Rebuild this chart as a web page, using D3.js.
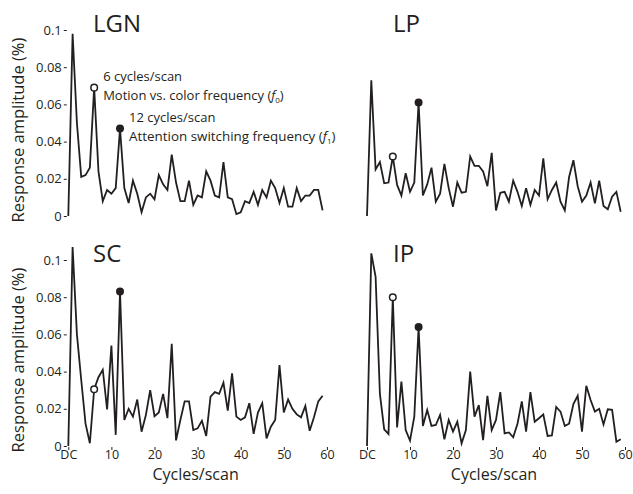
<!DOCTYPE html>
<html><head><meta charset="utf-8">
<script src="https://cdn.jsdelivr.net/npm/d3@7"></script>
<style>
html,body{margin:0;padding:0;background:#fff;}
text{font-family:"Open Sans","Noto Sans",sans-serif;fill:#231f20;}
</style></head>
<body><svg id="chart" width="633" height="494"></svg>
<script>
// ---- data ----
const cycles = d3.range(0, 60);
const lgnValues = [0,0.098,0.05,0.021,0.022,0.026,0.069,0.024,0.008,0.014,0.012,0.015,0.047,0.015,0.007,0.019,0.012,0.002,0.010,0.012,
  0.009,0.022,0.017,0.014,0.033,0.018,0.008,0.008,0.019,0.006,0.011,0.010,0.024,0.019,0.011,0.010,0.029,0.010,0.009,0.001,
  0.002,0.008,0.007,0.013,0.006,0.014,0.010,0.019,0.015,0.007,0.015,0.005,0.005,0.015,0.008,0.011,0.011,0.014,0.014,0.003];
const lpValues = [0,0.073,0.025,0.029,0.0176,0.018,0.032,0.0167,0.011,0.023,0.013,0.018,0.061,0.011,0.017,0.026,0.0077,0.012,0.028,0.015,
  0.005,0.018,0.0125,0.013,0.032,0.027,0.027,0.024,0.016,0.034,0.003,0.0125,0.013,0.0077,0.019,0.013,0.0054,0.015,0.006,0.014,
  0.011,0.031,0.009,0.014,0.018,0.0077,0.003,0.021,0.030,0.016,0.0077,0.011,0.018,0.0068,0.019,0.0054,0.0036,0.0104,0.013,0.0023];
const scValues = [0,0.107,0.06,0.0355,0.012,0.0015,0.0305,0.037,0.041,0.0197,0.054,0.006,0.083,0.014,0.020,0.0158,0.025,0.0077,0.0167,0.030,
  0.016,0.018,0.028,0.015,0.055,0.003,0.014,0.024,0.024,0.0086,0.0095,0.0136,0.0054,0.0265,0.029,0.028,0.034,0.019,0.039,0.0158,
  0.014,0.0154,0.023,0.0065,0.018,0.023,0.0041,0.0104,0.014,0.0435,0.018,0.025,0.020,0.017,0.0154,0.0215,0.0082,0.0154,0.024,0.027];
const ipValues = [0,0.1036,0.091,0.028,0.009,0.0065,0.080,0.010,0.0346,0.0086,0.0029,0.0158,0.064,0.0108,0.0194,0.0108,0.0113,0.0167,0.0036,0.014,
  0.0077,0.013,0.0014,0.0086,0.040,0.0158,0.022,0.0032,0.027,0.0086,0.014,0.029,0.0068,0.0073,0.0047,0.012,0.024,0.0077,0.029,0.013,
  0.0149,0.017,0.0054,0.0057,0.021,0.0185,0.0108,0.012,0.0226,0.027,0.0077,0.0324,0.0247,0.0185,0.020,0.0116,0.0197,0.0194,0.0023,0.0036];
const panelNames = ["LGN", "LP", "SC", "IP"];
const f0Index = 6, f1Index = 12;
const xTickValues = [0, 10, 20, 30, 40, 50, 60];
const xTickLabels = ["DC", "10", "20", "30", "40", "50", "60"];
const yTickValues = [0, 0.02, 0.04, 0.06, 0.08, 0.1];
const yTickLabels = ["0", "0.02", "0.04", "0.06", "0.08", "0.1"];
const yTitle = "Response amplitude (%)";
const xTitle = "Cycles/scan";

// ---- layout ----
const svg = d3.select("#chart");
const ink = "#231f20";
const panels = [
  {name: panelNames[0], values: lgnValues, x0: 68.3, x1: 326.9, y0: 216, y1: 30, col: 0, row: 0},
  {name: panelNames[1], values: lpValues,  x0: 367,  x1: 625,   y0: 216, y1: 30, col: 1, row: 0},
  {name: panelNames[2], values: scValues,  x0: 68.3, x1: 326.9, y0: 446, y1: 260, col: 0, row: 1},
  {name: panelNames[3], values: ipValues,  x0: 367,  x1: 625,   y0: 446, y1: 260, col: 1, row: 1}
];

panels.forEach(p => {
  const x = d3.scaleLinear().domain([0, 60]).range([p.x0, p.x1]);
  const y = d3.scaleLinear().domain([0, 0.1]).range([p.y0, p.y1]);
  const g = svg.append("g");

  // y axis (left column only)
  if (p.col === 0) {
    const ya = d3.axisLeft(y).tickValues(yTickValues)
      .tickFormat((d, i) => yTickLabels[i]).tickSize(3).tickPadding(2);
    const ag = g.append("g").attr("transform", `translate(${p.x0 - 1.5},0)`).call(ya);
    ag.select(".domain").remove();
    ag.selectAll("line").attr("stroke", ink).attr("stroke-width", 1);
    ag.selectAll("text").attr("font-size", 13).attr("fill", ink)
      .attr("font-family", "'Open Sans', sans-serif");
    g.append("text")
      .attr("transform", `translate(24,${(p.y0 + p.y1) / 2 + 7}) rotate(-90)`)
      .attr("text-anchor", "middle").attr("font-size", 16.5).text(yTitle);
  }
  // x axis (bottom row only)
  if (p.row === 1) {
    const xa = d3.axisBottom(x).tickValues(xTickValues)
      .tickFormat((d, i) => xTickLabels[i]).tickSize(3).tickPadding(0);
    const ag = g.append("g").attr("transform", `translate(0,${p.y0 + 1})`).call(xa);
    ag.select(".domain").remove();
    ag.selectAll("line").attr("stroke", ink).attr("stroke-width", 1);
    ag.selectAll("text").attr("font-size", 12.5).attr("fill", ink)
      .attr("font-family", "'Open Sans', sans-serif");
    g.append("text").attr("x", (p.x0 + p.x1) / 2 - 2).attr("y", 480)
      .attr("text-anchor", "middle").attr("font-size", 16).text(xTitle);
  }

  // data line
  const line = d3.line().x((d, i) => x(cycles[i])).y(d => y(d));
  g.append("path").datum(p.values).attr("d", line)
    .attr("fill", "none").attr("stroke", ink).attr("stroke-width", 1.8)
    .attr("stroke-linejoin", "miter");

  // markers
  g.append("circle").attr("cx", x(cycles[f0Index])).attr("cy", y(p.values[f0Index])).attr("r", 3.3)
    .attr("fill", "#fff").attr("stroke", ink).attr("stroke-width", 1.5);
  g.append("circle").attr("cx", x(cycles[f1Index])).attr("cy", y(p.values[f1Index])).attr("r", 4)
    .attr("fill", ink);

  // panel title
  g.append("text").attr("x", p.col === 0 ? 93 : 393).attr("y", p.row === 0 ? 32 : 262)
    .attr("font-size", 24).text(p.name);

  // annotations (LGN only)
  if (p.name === "LGN") {
    const ax = x(cycles[f0Index]) + 9, bx = x(cycles[f1Index]) + 9;
    g.append("text").attr("x", ax).attr("y", 81).attr("font-size", 13).text("6 cycles/scan");
    const t1 = g.append("text").attr("x", ax).attr("y", 100).attr("font-size", 13);
    t1.append("tspan").text("Motion vs. color frequency (");
    t1.append("tspan").attr("font-style", "italic").text("f");
    t1.append("tspan").attr("font-size", 8).attr("dy", 3).text("0");
    t1.append("tspan").attr("dy", -3).text(")");
    g.append("text").attr("x", bx).attr("y", 122).attr("font-size", 13).text("12 cycles/scan");
    const t2 = g.append("text").attr("x", bx).attr("y", 141).attr("font-size", 13.4);
    t2.append("tspan").text("Attention switching frequency (");
    t2.append("tspan").attr("font-style", "italic").text("f");
    t2.append("tspan").attr("font-size", 8).attr("dy", 3).text("1");
    t2.append("tspan").attr("dy", -3).text(")");
  }
});
</script></body></html>
